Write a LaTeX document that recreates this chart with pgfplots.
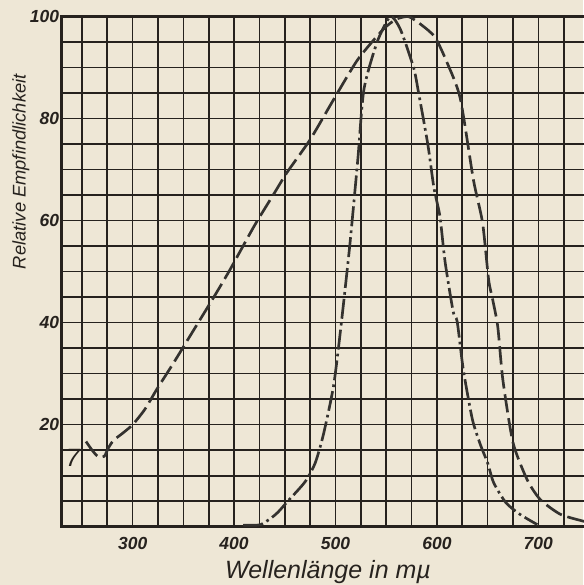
\documentclass[border=0pt]{standalone}
\usepackage{fontspec}
\setmainfont{Liberation Sans}
\usepackage{pgfplots}
\pgfplotsset{compat=1.18}
\usetikzlibrary{backgrounds}
\definecolor{paper}{RGB}{238,231,214}
\definecolor{ink}{RGB}{38,34,30}
\definecolor{curve}{RGB}{52,50,47}

\begin{document}
\begin{tikzpicture}
  \begin{axis}[
    scale only axis,width=314pt,height=306pt,
    xmin=230,xmax=746,ymin=0,ymax=100,
    xtick={300,400,...,700},ytick={20,40,...,100},
    minor xtick={250,275,...,725},minor ytick={5,10,...,95},
    extra y ticks={10},extra y tick labels={},
    extra y tick style={grid style={ink,line width=1.5pt}},
    grid=both,
    major grid style={ink,line width=1pt},
    minor grid style={ink,line width=1pt},
    major tick length=0pt,minor tick length=0pt,
    axis line style={ink,line width=1.5pt},
    /pgf/number format/assume math mode=true,
    ticklabel style={font=\fontsize{10.5}{12}\selectfont\itshape\bfseries,text=ink},
    xticklabel style={yshift=-3pt},
    yticklabel style={xshift=2pt},
    xlabel={Wellenlänge in m\textmu},
    ylabel={Relative Empfindlichkeit},
    every axis x label/.style={at={(rel axis cs:0.509,-0.088)},anchor=center,
      font=\fontsize{15}{17}\selectfont\itshape,text=ink},
    every axis y label/.style={at={(rel axis cs:-0.078,0.696)},anchor=center,rotate=90,
      font=\fontsize{11}{13}\selectfont\itshape,text=ink},
  ]
    % breite Kurve
    \addplot[curve,line width=1.6pt,smooth,tension=0.4,
      dash pattern=on 11pt off 3.5pt] coordinates {
      (254,16.7) (260,15.0) (266,13.7) (272,13.8) (276,15.4) (281,16.9)
      (290,18.3) (300,20.0) (312,23.0) (324,27.0) (340,32.0) (360,38.5)
      (380,45.0) (396,50.4) (420,59.0) (440,65.5) (452,69.4) (475,75.9)
      (498,83.7) (522,91.6) (547,97.5) (560,99.5) (572,100) (584,98.5)
      (598,96.0) (610,91.0) (623,84.0) (636,68.0) (645,59.6) (651,48.4)
      (655,44.5) (660,39.2) (665,28.8) (675,16.5) (689,9.2) (702,5.3)
      (722,2.4) (746,1.0)
    };
    % Augenempfindlichkeit
    \addplot[curve,line width=1.6pt,smooth,tension=0.4,
      dash pattern=on 12pt off 2.5pt on 1.6pt off 2.5pt] coordinates {
      (409,0.3) (426,0.4) (441,2.4) (453,5.0) (470,8.8) (480,12.5)
      (488,18.0) (498,27.5) (505,38.6) (514,55.0) (522,72.0) (528,85.7)
      (541,95.0) (554,100) (564,97.5) (577,90.0) (582,85.0) (591,75.0)
      (597,66.5) (603,60.8) (608,52.0) (616,42.2) (620,40.2) (626,30.8)
      (635,21.0) (643,16.0) (650,12.5) (656,8.6) (668,4.7) (682,2.4)
      (699,0.4)
    };
    \node[text=ink,font=\fontsize{15}{16}\selectfont\itshape] at (axis cs:241,13.5) {7};
    \coordinate (bl) at (rel axis cs:0,0);
    \coordinate (tr) at (rel axis cs:1,1);
  \end{axis}
  \path ([shift={(-37pt,-35pt)}]bl) coordinate (BL);
  \path ([shift={(-1pt,10pt)}]tr) coordinate (TR);
  \begin{scope}[on background layer]
    \fill[paper] (BL) rectangle (TR);
  \end{scope}
  \pgfresetboundingbox
  \path (BL) rectangle (TR);
\end{tikzpicture}
\end{document}
